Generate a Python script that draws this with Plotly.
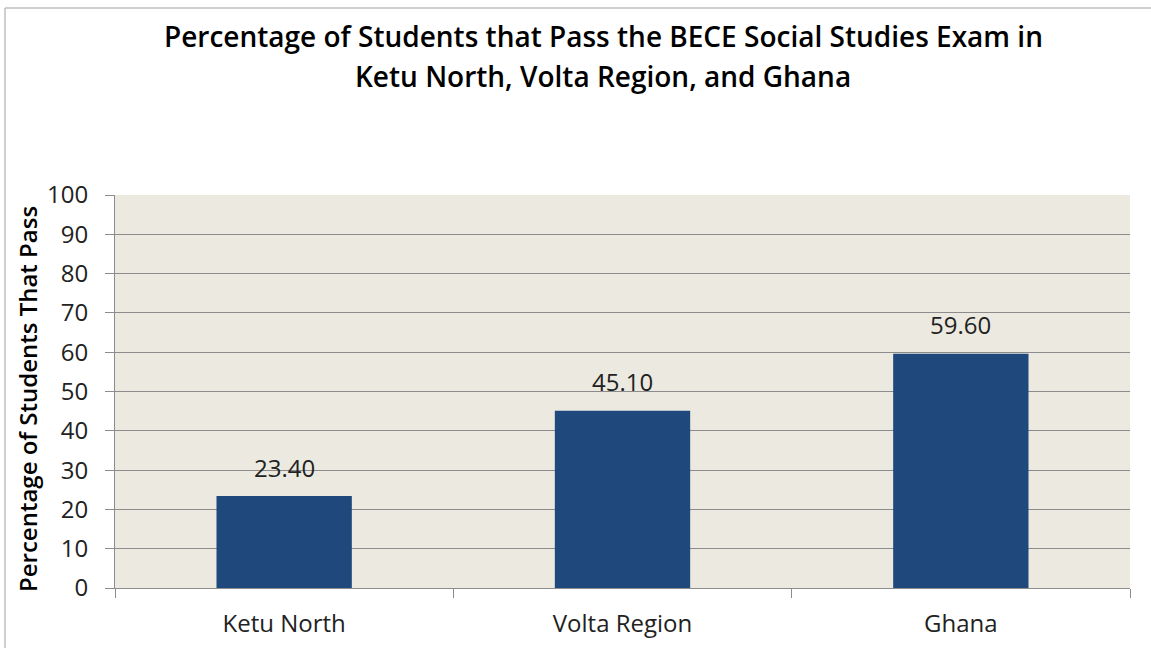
import plotly.graph_objects as go

categories = ["Ketu North", "Volta Region", "Ghana"]
values = [23.40, 45.10, 59.60]
y_ticks = [0, 10, 20, 30, 40, 50, 60, 70, 80, 90, 100]

title_line1 = "Percentage of Students that Pass the BECE Social Studies Exam in"
title_line2 = "Ketu North, Volta Region, and Ghana"
y_title = "Percentage of Students That Pass"

FONT = "Open Sans"
W, H = 1151, 648
L, R, T, B = 115, 21, 195, 60
pw = W - L - R
ph = H - T - B


def px_x(px):
    return (px - L) / pw


def px_y(py):
    return (H - B - py) / ph


fig = go.Figure()
fig.add_trace(go.Bar(
    x=categories, y=values,
    marker=dict(color="#1F497D", line=dict(width=0)),
    width=0.4,
    hoverinfo="x+y",
))

for c, v in zip(categories, values):
    fig.add_annotation(x=c, y=v, text=f"{v:.2f}", showarrow=False,
                       yanchor="middle", yshift=29,
                       font=dict(family=FONT, size=24, color="#222222"))

# title (two lines)
fig.add_annotation(xref="paper", yref="paper", x=px_x(603), y=px_y(36),
                   text=title_line1, showarrow=False, xanchor="center", yanchor="middle",
                   font=dict(family=FONT, size=28, color="black", weight=600))
fig.add_annotation(xref="paper", yref="paper", x=px_x(603), y=px_y(76),
                   text=title_line2, showarrow=False, xanchor="center", yanchor="middle",
                   font=dict(family=FONT, size=28, color="black", weight=600))

# y-axis title
fig.add_annotation(xref="paper", yref="paper", x=px_x(27), y=px_y(399),
                   text=y_title, showarrow=False, textangle=-90,
                   xanchor="center", yanchor="middle",
                   font=dict(family=FONT, size=24, color="black", weight=600))

# chart border (left and top edges visible)
fig.add_shape(type="line", xref="paper", yref="paper",
              x0=px_x(5), x1=px_x(5), y0=px_y(8), y1=px_y(H + 5),
              line=dict(color="#BFBFBF", width=1.5))
fig.add_shape(type="line", xref="paper", yref="paper",
              x0=px_x(5), x1=px_x(W + 5), y0=px_y(8), y1=px_y(8),
              line=dict(color="#BFBFBF", width=1.5))

fig.update_layout(
    width=W, height=H,
    margin=dict(l=L, r=R, t=T, b=B),
    paper_bgcolor="white",
    plot_bgcolor="#ECEAE0",
    showlegend=False,
    bargap=0.6,
)
fig.update_yaxes(
    range=[0, 100], tickvals=y_ticks, ticktext=[str(t) for t in y_ticks],
    showgrid=True, gridcolor="#8C8C8C", gridwidth=1,
    showline=True, linecolor="#8C8C8C", linewidth=1,
    ticks="outside", ticklen=9, tickcolor="#8C8C8C",
    ticklabelstandoff=12,
    tickfont=dict(family=FONT, size=24, color="#222222"),
    zeroline=False, fixedrange=True, automargin=False,
)
fig.update_xaxes(
    showline=True, linecolor="#8C8C8C", linewidth=1,
    ticks="outside", ticklen=9, tickcolor="#8C8C8C",
    tickson="boundaries",
    tickfont=dict(family=FONT, size=24, color="#222222"),
    ticklabelstandoff=14,
    showgrid=False, fixedrange=True, automargin=False,
)

fig.write_html("out.html", config={"displayModeBar": False},
               post_script="document.body.style.margin='0';")
